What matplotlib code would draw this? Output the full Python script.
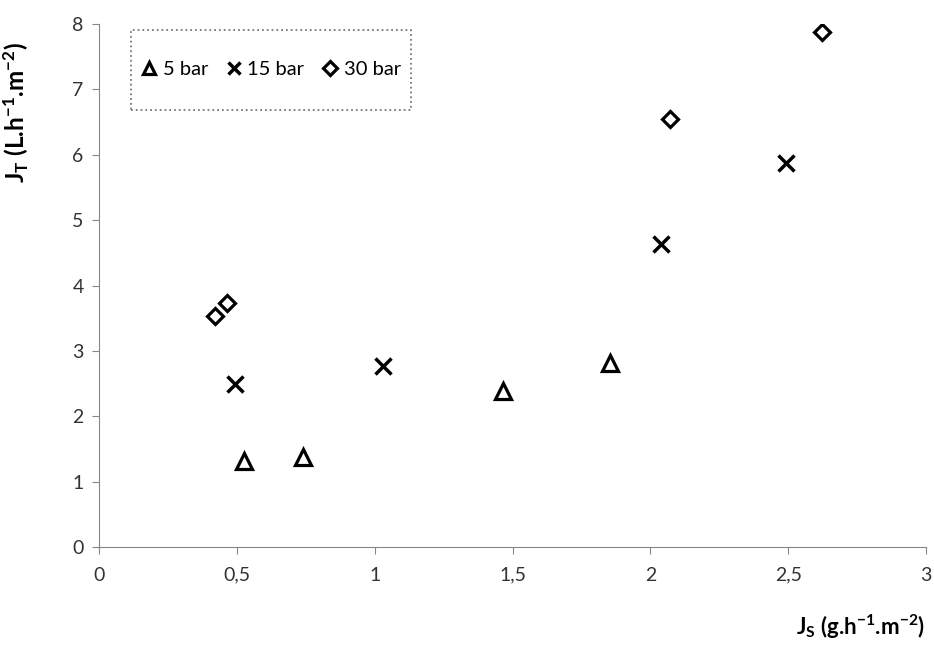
import matplotlib.pyplot as plt
from matplotlib.patches import Rectangle

# datos
js_5 = [0.526, 0.741, 1.464, 1.853]
jt_5 = [1.32, 1.38, 2.38, 2.81]
js_15 = [0.493, 1.029, 2.04, 2.491]
jt_15 = [2.50, 2.77, 4.63, 5.88]
js_30 = [0.421, 0.463, 2.071, 2.621]
jt_30 = [3.54, 3.74, 6.54, 7.87]

x_ticks = [0, 0.5, 1, 1.5, 2, 2.5, 3]
x_labels = ["0", "0,5", "1", "1,5", "2", "2,5", "3"]
y_ticks = [0, 1, 2, 3, 4, 5, 6, 7, 8]

plt.rcParams['font.family'] = ['Lato', 'DejaVu Sans']
plt.rcParams['mathtext.default'] = 'regular'

fig = plt.figure(figsize=(9.34, 6.64), dpi=100)
ax = fig.add_axes([0.106, 0.176, 0.8855, 0.788])

ax.plot(js_5, jt_5, ls='none', marker='^', ms=11, mfc='none', mec='black', mew=2.3, label='5 bar')
ax.plot(js_15, jt_15, ls='none', marker='x', ms=11, mec='black', mew=2.5, label='15 bar')
ax.plot(js_30, jt_30, ls='none', marker='D', ms=8.5, mfc='none', mec='black', mew=2.3, label='30 bar')

ax.set_xlim(0, 3)
ax.set_ylim(0, 8)
ax.set_xticks(x_ticks)
ax.set_xticklabels(x_labels)
ax.set_yticks(y_ticks)
ax.tick_params(labelsize=14, colors='#333333', length=5, color='#868686', pad=6)
ax.tick_params(axis='x', pad=9)
for s in ['top', 'right']:
    ax.spines[s].set_visible(False)
for s in ['left', 'bottom']:
    ax.spines[s].set_color('#868686')

ax.set_ylabel('J$_{T}$ (L.h$^{-1}$.m$^{-2}$)', fontsize=17.5, fontweight='bold')
ax.yaxis.set_label_coords(-0.082, 0.83)
fig.text(0.99, 0.035, 'J$_{S}$ (g.h$^{-1}$.m$^{-2}$)',
         fontsize=16, fontweight='bold', ha='right', va='bottom')

# leyenda sin marco + recuadro punteado aparte
leg = ax.legend(loc='center', bbox_to_anchor=(0.208, 0.912), ncol=3, fontsize=14.5,
                handlelength=0.8, handletextpad=0.25, columnspacing=0.9,
                frameon=False, markerscale=0.8)
ax.add_patch(Rectangle((0.0387, 0.836), 0.338, 0.153, transform=ax.transAxes,
                       fill=False, ec='#777777', ls=':', lw=1.3, clip_on=False))

fig.savefig('out.png', dpi=100)
